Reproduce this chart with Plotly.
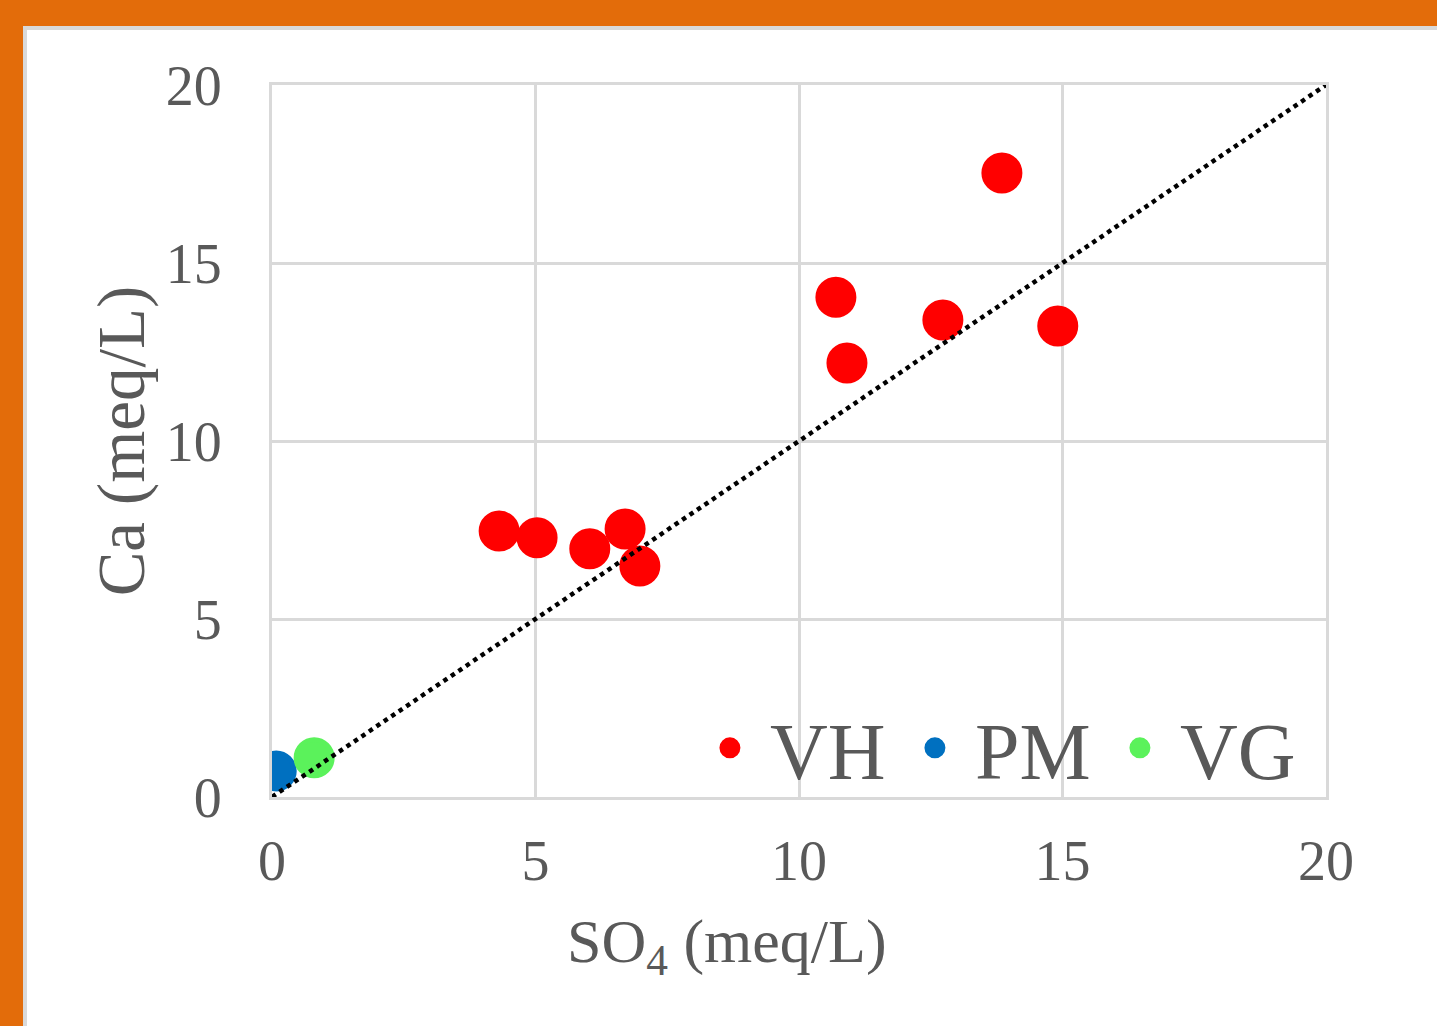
import plotly.graph_objects as go

# Data
vh_so4 = [13.85, 10.70, 12.73, 14.91, 10.91, 4.31, 5.03, 6.03, 6.70, 6.98]
vh_ca = [17.53, 14.04, 13.40, 13.23, 12.19, 7.47, 7.28, 6.97, 7.53, 6.49]
pm_so4 = [0.08]
pm_ca = [0.73]
vg_so4 = [0.80]
vg_ca = [1.10]
line_x = [0, 20]
line_y = [0, 20]
tick_vals = [0, 5, 10, 15, 20]
tick_text = ["0", "5", "10", "15", "20"]

FONT = "Liberation Serif, Times New Roman, serif"
GRAY = "#595959"
GRID = "#D9D9D9"

fig = go.Figure()

def add_series(x, y, name, color):
    fig.add_trace(go.Scatter(
        x=x, y=y, mode="markers", name=name,
        marker=dict(size=36, color=color, line=dict(color=color, width=5)),
    ))

add_series(vh_so4, vh_ca, "VH", "#FF0000")
add_series(pm_so4, pm_ca, "PM", "#0070C0")
add_series(vg_so4, vg_ca, "VG", "#5BF25B")

fig.add_trace(go.Scatter(
    x=line_x, y=line_y, mode="lines", showlegend=False,
    line=dict(color="black", width=4.5, dash="dot"),
    hoverinfo="skip",
))

axis_common = dict(
    range=[0, 20], tickvals=tick_vals, ticktext=tick_text,
    showgrid=True, gridcolor=GRID, gridwidth=3,
    showline=True, linecolor=GRID, linewidth=3, mirror=True,
    zeroline=False, ticks="",
    tickfont=dict(family=FONT, size=56, color=GRAY),
)

fig.update_layout(
    width=1437, height=1026,
    margin=dict(l=272, r=111, t=85, b=229),
    paper_bgcolor="#E36C0A",
    plot_bgcolor="white",
    font=dict(family=FONT, color=GRAY),
    xaxis=dict(**axis_common, ticklabelstandoff=13),
    yaxis=dict(**axis_common, ticklabelstandoff=36,
               title=dict(text="Ca (meq/L)", font=dict(family=FONT, size=67, color=GRAY),
                          standoff=0)),
    showlegend=True,
    legend=dict(
        orientation="h", x=0.980, xanchor="right", y=0.069, yanchor="middle",
        bgcolor="rgba(0,0,0,0)", font=dict(family=FONT, size=80, color=GRAY),
        itemsizing="trace", itemwidth=70, entrywidth=120, entrywidthmode="pixels",
    ),
    shapes=[dict(
        type="rect", xref="paper", yref="paper",
        x0=(25 - 272) / 1054, x1=1.3, y0=-0.5, y1=(797 - 28) / 712,
        fillcolor="white", line=dict(color=GRID, width=4), layer="below",
    )],
    annotations=[dict(
        text="SO<sub>4</sub> (meq/L)", xref="paper", yref="paper",
        x=(727 - 272) / 1054, y=(797 - 945) / 712, xanchor="center", yanchor="middle",
        showarrow=False, font=dict(family=FONT, size=62, color=GRAY),
    )],
)

fig.write_html(
    "out.html",
    config={"displayModeBar": False},
    post_script="document.body.style.margin='0';document.body.style.overflow='hidden';",
)
